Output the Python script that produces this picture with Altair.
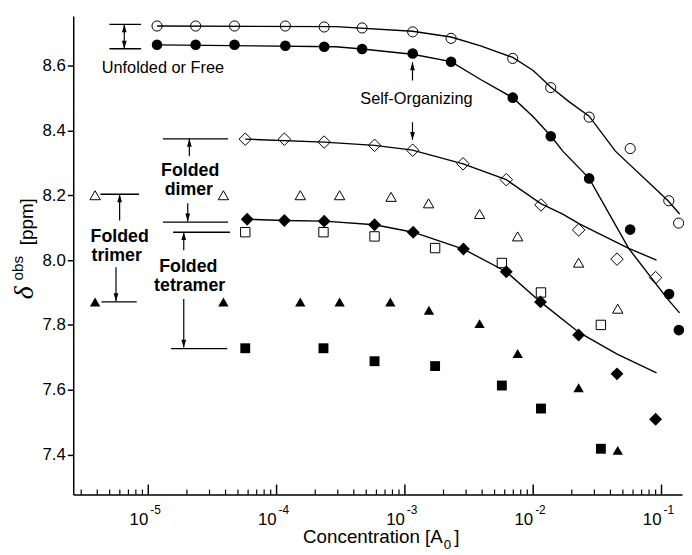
import altair as alt
import pandas as pd

# ---------------- data ----------------
# open circles
OC_X = [1.17e-5, 2.34e-5, 4.7e-5, 1.17e-4, 2.35e-4, 4.64e-4, 1.15e-3, 2.29e-3, 6.93e-3, 1.37e-2, 2.73e-2, 5.7e-2, 0.114, 0.136]
OC_Y = [8.722, 8.722, 8.722, 8.722, 8.719, 8.716, 8.704, 8.684, 8.622, 8.532, 8.441, 8.344, 8.183, 8.114]
# filled circles
FC_X = [1.17e-5, 2.34e-5, 4.7e-5, 1.17e-4, 2.35e-4, 4.64e-4, 1.15e-3, 2.29e-3, 6.93e-3, 1.37e-2, 2.73e-2, 5.7e-2, 0.1146, 0.1365]
FC_Y = [8.664, 8.664, 8.664, 8.661, 8.658, 8.651, 8.637, 8.612, 8.501, 8.382, 8.252, 8.094, 7.895, 7.784]
# open diamonds
OD_X = [5.7e-5, 1.15e-4, 2.35e-4, 5.8e-4, 1.15e-3, 2.84e-3, 6.17e-3, 1.15e-2, 2.26e-2, 4.5e-2, 9.0e-2]
OD_Y = [8.373, 8.373, 8.364, 8.354, 8.339, 8.297, 8.248, 8.170, 8.093, 8.003, 7.946]
# open triangles
OT_X = [3.85e-6, 3.85e-5, 1.53e-4, 3.1e-4, 7.8e-4, 1.53e-3, 3.82e-3, 7.57e-3, 2.26e-2, 4.56e-2]
OT_Y = [8.200, 8.200, 8.200, 8.200, 8.195, 8.175, 8.142, 8.073, 7.992, 7.850]
# open squares
OS_X = [5.7e-5, 2.32e-4, 5.8e-4, 1.72e-3, 5.7e-3, 1.15e-2, 3.37e-2]
OS_Y = [8.086, 8.086, 8.073, 8.037, 7.991, 7.900, 7.800]
# filled diamonds
FD_X = [5.9e-5, 1.15e-4, 2.35e-4, 5.8e-4, 1.16e-3, 2.86e-3, 6.17e-3, 1.14e-2, 2.26e-2, 4.5e-2, 9.0e-2]
FD_Y = [8.126, 8.122, 8.120, 8.109, 8.086, 8.034, 7.964, 7.871, 7.769, 7.649, 7.509]
# filled triangles
FT_X = [3.85e-6, 3.85e-5, 1.53e-4, 3.1e-4, 7.7e-4, 1.54e-3, 3.82e-3, 7.57e-3, 2.26e-2, 4.56e-2]
FT_Y = [7.871, 7.871, 7.871, 7.871, 7.871, 7.845, 7.804, 7.712, 7.606, 7.413]
# filled squares
FS_X = [5.7e-5, 2.32e-4, 5.8e-4, 1.72e-3, 5.7e-3, 1.15e-2, 3.37e-2]
FS_Y = [7.728, 7.728, 7.688, 7.673, 7.613, 7.542, 7.418]

# fitted curves
OC_FIT_X = [1.17e-5, 2.90e-4, 1.146e-3, 2.29e-3, 3.89e-3, 6.93e-3, 1.0e-2, 1.37e-2, 1.91e-2, 2.73e-2, 4.37e-2, 0.1126, 0.1384]
OC_FIT_Y = [8.722, 8.720, 8.706, 8.688, 8.661, 8.625, 8.585, 8.534, 8.488, 8.444, 8.336, 8.183, 8.142]
FC_FIT_X = [1.17e-5, 2.90e-4, 4.64e-4, 1.146e-3, 2.29e-3, 3.89e-3, 6.93e-3, 1.0e-2, 1.384e-2, 1.70e-2, 2.73e-2, 5.55e-2, 0.1126, 0.1384]
FC_FIT_Y = [8.664, 8.658, 8.651, 8.635, 8.612, 8.557, 8.501, 8.442, 8.381, 8.336, 8.252, 8.036, 7.878, 7.837]
OD_FIT_X = [5.7e-5, 2.35e-4, 5.81e-4, 1.146e-3, 2.84e-3, 6.17e-3, 1.146e-2, 1.70e-2, 2.29e-2, 5.55e-2, 9.15e-2]
OD_FIT_Y = [8.373, 8.364, 8.354, 8.339, 8.297, 8.248, 8.174, 8.142, 8.112, 8.036, 8.000]
FD_FIT_X = [5.9e-5, 1.15e-4, 2.35e-4, 5.81e-4, 1.16e-3, 2.86e-3, 6.17e-3, 1.14e-2, 2.29e-2, 4.51e-2, 9.15e-2]
FD_FIT_Y = [8.126, 8.122, 8.120, 8.109, 8.086, 8.034, 7.964, 7.871, 7.776, 7.710, 7.652]

# annotation level lines
BR_X1 = [4.98e-6, 4.98e-6, 1.30e-5, 1.30e-5, 1.56e-5, 1.50e-5, 4.24e-6, 4.32e-6]
BR_X2 = [8.79e-6, 8.79e-6, 4.18e-5, 4.18e-5, 4.33e-5, 4.12e-5, 8.48e-6, 8.12e-6]
BR_Y = [8.727, 8.652, 8.374, 8.117, 8.086, 7.727, 8.203, 7.871]
# annotation arrows (head at AR_TO)
AR_X = [6.5e-6, 6.5e-6, 2.09e-5, 2.03e-5, 1.89e-5, 1.89e-5, 5.98e-6, 5.6e-6, 1.146e-3, 1.146e-3]
AR_FROM = [8.690, 8.690, 8.320, 8.175, 8.030, 7.880, 8.122, 7.978, 8.554, 8.425]
AR_TO = [8.727, 8.652, 8.374, 8.119, 8.086, 7.730, 8.203, 7.873, 8.610, 8.371]
# annotation texts
TN_X = [1.30e-5, 1.23e-3]
TN_Y = [8.578, 8.480]
TN_TEXT = ["Unfolded or Free", "Self-Organizing"]
TB_X = [2.12e-5, 2.07e-5, 5.98e-6, 5.67e-6, 2.05e-5, 2.1e-5]
TB_Y = [8.258, 8.200, 8.056, 7.997, 7.962, 7.906]
TB_TEXT = ["Folded", "dimer", "Folded", "trimer", "Folded", "tetramer"]

# axis ticks / labels
Y_TICKS = [7.4, 7.6, 7.8, 8.0, 8.2, 8.4, 8.6]
X_MAJOR = [1e-5, 1e-4, 1e-3, 1e-2, 1e-1]
X_EXP = ["-5", "-4", "-3", "-2", "-1"]
X_MINOR = [m * d for d in [1e-6, 1e-5, 1e-4, 1e-3, 1e-2] for m in range(2, 10) if m * d >= 3e-6]

FONT = "Liberation Sans"

# ---------------- scales / axes ----------------
xs = alt.Scale(type="log", domain=[10 ** -5.585, 10 ** -0.84], nice=False)
ys = alt.Scale(domain=[7.277, 8.7525], nice=False, zero=False)
XAXIS = alt.Axis(labels=False, ticks=False, grid=False, title=None, domainColor="black", domainWidth=1.5)
YAXIS = alt.Axis(values=Y_TICKS, format=".1f", grid=False, title=None, tickSize=6, tickWidth=1.5,
                 tickColor="black", domainColor="black", domainWidth=1.5, labelFont=FONT,
                 labelFontSize=17, labelColor="black", labelPadding=2)


def X(f="x"):
    return alt.X(f"{f}:Q", scale=xs, axis=XAXIS)


def Y(f="y"):
    return alt.Y(f"{f}:Q", scale=ys, axis=YAXIS)


layers = []

# fitted lines
for fx, fy in [(OC_FIT_X, OC_FIT_Y), (FC_FIT_X, FC_FIT_Y), (OD_FIT_X, OD_FIT_Y), (FD_FIT_X, FD_FIT_Y)]:
    d = pd.DataFrame({"x": fx, "y": fy})
    layers.append(alt.Chart(d).mark_line(color="black", strokeWidth=1.4).encode(x=X(), y=Y()))

# markers
series = [
    (OC_X, OC_Y, "circle", False, 105),
    (FC_X, FC_Y, "circle", True, 115),
    (OD_X, OD_Y, "diamond", False, 160),
    (OT_X, OT_Y, "triangle-up", False, 110),
    (OS_X, OS_Y, "square", False, 90),
    (FD_X, FD_Y, "diamond", True, 170),
    (FT_X, FT_Y, "triangle-up", True, 110),
    (FS_X, FS_Y, "square", True, 100),
]
for sx, sy, shape, filled, size in series:
    d = pd.DataFrame({"x": sx, "y": sy})
    if filled:
        m = alt.Chart(d).mark_point(shape=shape, filled=True, color="black", size=size, opacity=1)
    else:
        m = alt.Chart(d).mark_point(shape=shape, filled=False, color="black", strokeWidth=1, size=size, opacity=1)
    layers.append(m.encode(x=X(), y=Y()))

# annotation level lines
br = pd.DataFrame({"x": BR_X1, "x2": BR_X2, "y": BR_Y})
layers.append(alt.Chart(br).mark_rule(color="black", strokeWidth=1.4).encode(x=X(), x2="x2:Q", y=Y()))

# arrows
ar = pd.DataFrame({"x": AR_X, "y": AR_FROM, "y2": AR_TO})
layers.append(alt.Chart(ar).mark_rule(color="black", strokeWidth=1.2).encode(x=X(), y=Y(), y2="y2:Q"))
up = ar[ar["y2"] > ar["y"]]
dn = ar[ar["y2"] < ar["y"]]
layers.append(alt.Chart(up).mark_point(shape="M0,-1L-0.6,1L0.6,1Z", filled=True, color="black", size=64,
                                       opacity=1, yOffset=4).encode(x=X(), y=Y("y2")))
layers.append(alt.Chart(dn).mark_point(shape="M0,1L-0.6,-1L0.6,-1Z", filled=True, color="black", size=64,
                                       opacity=1, yOffset=-4).encode(x=X(), y=Y("y2")))

# annotation texts
tn = pd.DataFrame({"x": TN_X, "y": TN_Y, "t": TN_TEXT})
layers.append(alt.Chart(tn).mark_text(font=FONT, fontSize=16.5, color="black", align="center",
                                      baseline="alphabetic").encode(x=X(), y=Y(), text="t:N"))
tb = pd.DataFrame({"x": TB_X, "y": TB_Y, "t": TB_TEXT})
layers.append(alt.Chart(tb).mark_text(font=FONT, fontSize=18, fontWeight="bold", color="black", align="center",
                                      baseline="alphabetic").encode(x=X(), y=Y(), text="t:N"))

# x-axis: inward ticks and 10^n labels
mj = pd.DataFrame({"x": X_MAJOR, "e": X_EXP})
mn = pd.DataFrame({"x": X_MINOR})
layers.append(alt.Chart(mj).mark_rule(color="black", strokeWidth=1.5).encode(x=X(), y=alt.value(484), y2=alt.value(474)))
layers.append(alt.Chart(mn).mark_rule(color="black", strokeWidth=1.2).encode(x=X(), y=alt.value(484), y2=alt.value(479)))
layers.append(alt.Chart(mj).mark_text(font=FONT, fontSize=17, color="black", align="right", baseline="alphabetic",
                                      text="10").encode(x=X(), y=alt.value(515)))
layers.append(alt.Chart(mj).mark_text(font=FONT, fontSize=12, color="black", align="left", baseline="alphabetic",
                                      dx=2).encode(x=X(), y=alt.value(504), text="e:N"))

# axis titles
one = pd.DataFrame({"k": [0]})
layers.append(alt.Chart(one).mark_text(text="Concentration [A", font=FONT, fontSize=19, color="black",
                                       align="right", baseline="alphabetic").encode(x=alt.value(374), y=alt.value(533)))
layers.append(alt.Chart(one).mark_text(text="0", font=FONT, fontSize=13.5, color="black",
                                       align="left", baseline="alphabetic").encode(x=alt.value(375), y=alt.value(539)))
layers.append(alt.Chart(one).mark_text(text="]", font=FONT, fontSize=19, color="black",
                                       align="left", baseline="alphabetic").encode(x=alt.value(385.5), y=alt.value(533)))
layers.append(alt.Chart(one).mark_text(text="δ", font="Liberation Serif", fontStyle="italic", fontSize=28,
                                       color="black", angle=270, align="center", baseline="alphabetic")
              .encode(x=alt.value(-41), y=alt.value(280)))
layers.append(alt.Chart(one).mark_text(text="obs", font=FONT, fontSize=15.5, color="black", angle=270,
                                       align="center", baseline="alphabetic").encode(x=alt.value(-51), y=alt.value(255)))
layers.append(alt.Chart(one).mark_text(text="[ppm]", font=FONT, fontSize=19, color="black", angle=270,
                                       align="center", baseline="alphabetic").encode(x=alt.value(-41), y=alt.value(208)))

chart = alt.layer(*layers).properties(
    width=616, height=484,
    autosize=alt.AutoSizeParams(type="none"),
    padding={"left": 66, "top": 5, "right": 2, "bottom": 56},
).configure_view(stroke=None)

chart.save("out.html", embed_options={"renderer": "svg", "actions": False})
